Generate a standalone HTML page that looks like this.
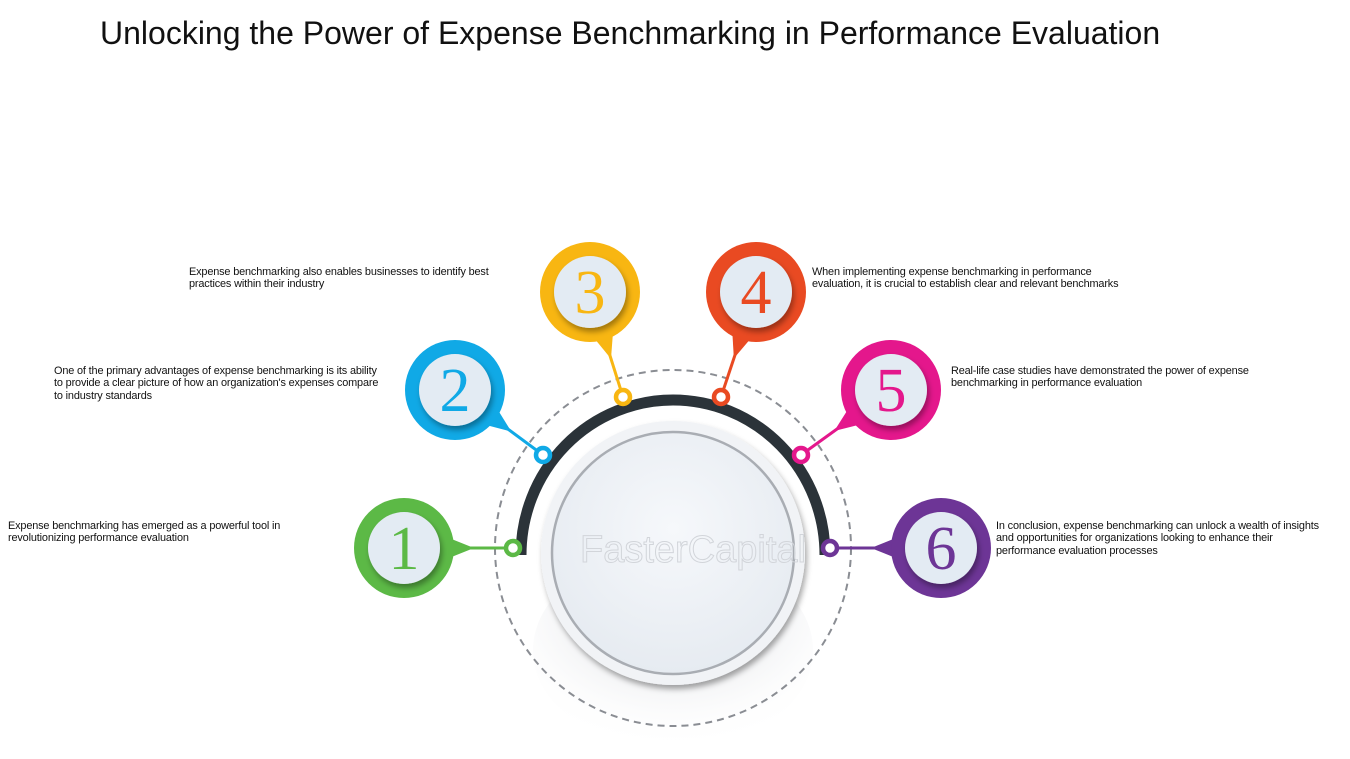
<!DOCTYPE html>
<html><head><meta charset="utf-8"><style>
html,body{margin:0;padding:0;background:#fff;}
body{width:1350px;height:759px;position:relative;overflow:hidden;font-family:"Liberation Sans",sans-serif;}
.t{position:absolute;font-size:10.9px;line-height:12.3px;color:#111;letter-spacing:-0.15px;white-space:nowrap;}
#title{position:absolute;left:100px;top:15px;font-size:32px;color:#111;white-space:nowrap;}
</style></head><body>
<div id="title">Unlocking the Power of Expense Benchmarking in Performance Evaluation</div>
<svg width="1350" height="759" style="position:absolute;left:0;top:0">
<defs>
<radialGradient id="sh" cx="0.5" cy="0.3" r="0.7"><stop offset="0" stop-color="#c9ccd3"/><stop offset="1" stop-color="#fff" stop-opacity="0"/></radialGradient>
<radialGradient id="disc" cx="0.5" cy="0.4" r="0.6"><stop offset="0" stop-color="#f6f8fb"/><stop offset="1" stop-color="#e6ebf1"/></radialGradient>
<filter id="ds" x="-30%" y="-30%" width="160%" height="160%"><feDropShadow dx="2" dy="4" stdDeviation="3" flood-opacity="0.35"/></filter>
</defs>
<ellipse cx="673" cy="650" rx="140" ry="100" fill="url(#sh)"/>
<circle cx="673" cy="548" r="178" fill="none" stroke="#8a8d93" stroke-width="2" stroke-dasharray="7 5"/>
<path d="M521 555 A152 155 0 0 1 825 555" fill="none" stroke="#2b3339" stroke-width="11"/>
<circle cx="673" cy="553" r="132" fill="#f1f3f6" filter="url(#ds)"/>
<circle cx="673" cy="553" r="121" fill="url(#disc)" stroke="#a9adb3" stroke-width="2.5"/>
<text x="580" y="562" font-family="Liberation Sans,sans-serif" font-size="38" fill="none" stroke="#d2d5da" stroke-width="1">FasterCapital</text>
<g id="bubbles"></g>
</svg>
<div class="t" style="left:189px;top:266px">Expense benchmarking also enables businesses to identify best<br>practices within their industry</div>
<div class="t" style="left:54px;top:365px">One of the primary advantages of expense benchmarking is its ability<br>to provide a clear picture of how an organization's expenses compare<br>to industry standards</div>
<div class="t" style="left:8px;top:520px">Expense benchmarking has emerged as a powerful tool in<br>revolutionizing performance evaluation</div>
<div class="t" style="left:812px;top:266px">When implementing expense benchmarking in performance<br>evaluation, it is crucial to establish clear and relevant benchmarks</div>
<div class="t" style="left:951px;top:365px">Real-life case studies have demonstrated the power of expense<br>benchmarking in performance evaluation</div>
<div class="t" style="left:996px;top:520px">In conclusion, expense benchmarking can unlock a wealth of insights<br>and opportunities for organizations looking to enhance their<br>performance evaluation processes</div>
<script>
const labels=["1","2","3","4","5","6"];
const colors=["#5cb946","#10a9e6","#f8b612","#e94a22","#e4178c","#6d3596"];
const bx=[404,455,590,756,891,941], by=[548,390,292,292,390,548];
const mx=[513,543,623,721,801,830], my=[548,455,397,397,455,548];
const g=document.getElementById('bubbles');
const NS="http://www.w3.org/2000/svg";
function mk(t,a){const e=document.createElementNS(NS,t);for(const k in a)e.setAttribute(k,a[k]);g.appendChild(e);return e;}
for(let i=0;i<6;i++){
  const dx=mx[i]-bx[i],dy=my[i]-by[i],L=Math.hypot(dx,dy),ux=dx/L,uy=dy/L,px=-uy,py=ux;
  const ln=mk('line',{x1:bx[i],y1:by[i],x2:mx[i],y2:my[i],stroke:colors[i],'stroke-width':3});
  
  
  const tx=bx[i]+ux*70,ty=by[i]+uy*70;
  const tail=mk('polygon',{points:`${bx[i]+px*28},${by[i]+py*28} ${tx},${ty} ${bx[i]-px*28},${by[i]-py*28}`,fill:colors[i]});
  
  
  const c=mk('circle',{cx:bx[i],cy:by[i],r:50,fill:colors[i]});
  
  
  const d=mk('circle',{cx:bx[i],cy:by[i],r:36,fill:'#e3ebf3',filter:'url(#ds)'});
  
  
  const n=mk('text',{x:bx[i],y:by[i]+21,'text-anchor':'middle','font-family':'Liberation Serif,serif','font-size':62,fill:colors[i]});
  n.textContent=labels[i];
  
  
  const m=mk('circle',{cx:mx[i],cy:my[i],r:7,fill:'#fff',stroke:colors[i],'stroke-width':4.5});
  
  
}
</script>
</body></html>
